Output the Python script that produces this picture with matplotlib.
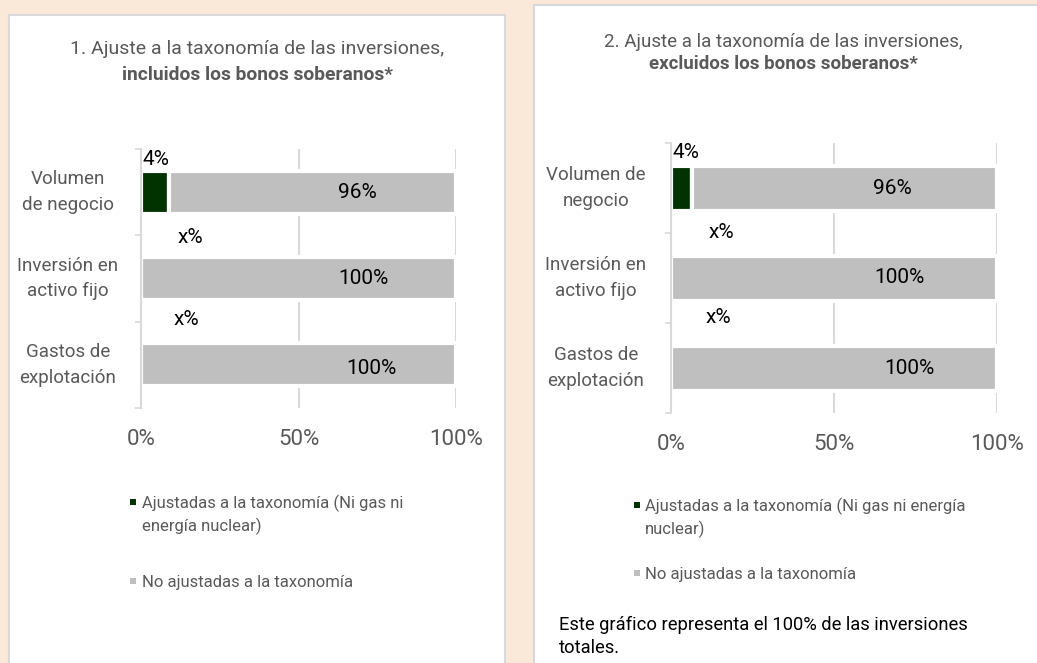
import matplotlib.pyplot as plt
from matplotlib.patches import Rectangle
from matplotlib.transforms import blended_transform_factory

W, H = 1037, 663

# ---- data ----
categories_left = ["Volumen\nde negocio", "Inversión en\nactivo fijo", "Gastos de\nexplotación"]
categories_right = ["Volumen de\nnegocio", "Inversión en\nactivo fijo", "Gastos de\nexplotación"]

# bar lengths as they are drawn in the picture (% of axis)
aligned_left = [8.9, 0, 0]
not_aligned_left = [91.1, 100, 100]
aligned_right = [6.4, 0, 0]
not_aligned_right = [93.6, 100, 100]

aligned_labels = ["4%", "x%", "x%"]
not_aligned_labels = ["96%", "100%", "100%"]

legend_left = ["Ajustadas a la taxonomía (Ni gas ni\nenergía nuclear)", "No ajustadas a la taxonomía"]
legend_right = ["Ajustadas a la taxonomía (Ni gas ni energía\nnuclear)", "No ajustadas a la taxonomía"]

note = "Este gráfico representa el 100% de las inversiones\ntotales."

GREEN = "#003300"
GREY = "#BFBFBF"
LINE = "#D9D9D9"
TXT = "#595959"
BG = "#FAE8D8"

plt.rcParams['font.family'] = ['Roboto', 'DejaVu Sans']

fig = plt.figure(figsize=(W / 100, H / 100), dpi=100)
fig.patch.set_facecolor(BG)


def fx(px):
    return px / W


def fy(py):
    return 1 - py / H


# white panels (behind the axes)
for x0, y0, x1, y1 in [(8.5, 15, 505, 680), (534, 5, 1060, 680)]:
    fig.patches.append(Rectangle((fx(x0), fy(y1)), fx(x1 - x0), (y1 - y0) / H,
                                 transform=fig.transFigure, facecolor='white',
                                 edgecolor=LINE, linewidth=1.5, zorder=-1))


def draw_panel(box, cats, cat_x, aligned, not_aligned, a_pos, n_pos):
    x0, top, x1, bottom = box
    ax = fig.add_axes([fx(x0), fy(bottom), fx(x1 - x0), (bottom - top) / H])
    ax.set_facecolor('none')
    rows = list(range(len(cats)))
    ax.barh(rows, aligned, height=0.5, color=GREEN, edgecolor='white', linewidth=3, zorder=3)
    ax.barh(rows, not_aligned, left=aligned, height=0.5, color=GREY,
            edgecolor='white', linewidth=3, zorder=3)
    ax.set_xlim(0, 100)
    ax.set_ylim(2.5, -0.5)
    for s in ['top', 'right', 'bottom']:
        ax.spines[s].set_visible(False)
    ax.spines['left'].set_color(LINE)
    ax.spines['left'].set_linewidth(1.5)
    ax.spines['left'].set_zorder(4)
    ax.set_xticks([0, 50, 100], ['0%', '50%', '100%'])
    ax.tick_params(axis='x', length=0, pad=15, labelsize=16, labelcolor=TXT)
    ax.set_yticks([-0.5, 0.5, 1.5, 2.5], ['', '', '', ''])
    ax.tick_params(axis='y', length=4.5, width=1.2, color=LINE)
    for gx in [50, 100]:
        ax.axvline(gx, color=LINE, linewidth=1.5, zorder=1)

    tr = blended_transform_factory(fig.transFigure, ax.transData)
    for r, c in zip(rows, cats):
        fig.text(fx(cat_x), r, c, transform=tr, ha='center', va='center',
                 multialignment='center', fontsize=13.5, color=TXT, linespacing=1.55)

    for (px, py), t in zip(a_pos, aligned_labels):
        ax.text(px, py, t, ha='center', va='center', fontsize=15, color='black', zorder=5)
    for (px, py), t in zip(n_pos, not_aligned_labels):
        ax.text(px, py, t, ha='center', va='center', fontsize=15, color='black', zorder=5)
    return ax


draw_panel((141, 149, 456, 408), categories_left, 68, aligned_left, not_aligned_left,
           [(4.6, -0.38), (15.6, 0.52), (14.3, 1.47)],
           [(68.6, 0.0), (70.5, 1.0), (73.3, 2.04)])
draw_panel((671, 143, 997, 413), categories_right, 596, aligned_right, not_aligned_right,
           [(4.6, -0.39), (15.6, 0.5), (14.4, 1.44)],
           [(67.8, 0.0), (70.2, 0.99), (73.0, 2.01)])

# titles
fig.text(fx(257), fy(49), "1. Ajuste a la taxonomía de las inversiones,", ha='center',
         va='center', fontsize=14, color=TXT)
fig.text(fx(257), fy(75), "incluidos los bonos soberanos*", ha='center',
         va='center', fontsize=13.9, color=TXT, fontweight='bold')
fig.text(fx(783), fy(42), "2. Ajuste a la taxonomía de las inversiones,", ha='center',
         va='center', fontsize=13.5, color=TXT)
fig.text(fx(783), fy(64), "excluidos los bonos soberanos*", ha='center',
         va='center', fontsize=13.5, color=TXT, fontweight='bold')


def write_lines(text, x, first_base, step, **kw):
    for i, line in enumerate(text.split("\n")):
        fig.text(fx(x), fy(first_base + i * step), line, ha='left', va='baseline', **kw)


# legends: small square marker on the first line of each entry
def draw_legend(labels, mark_x, text_x, baselines):
    for lab, col, base in zip(labels, [GREEN, GREY], baselines):
        fig.patches.append(Rectangle((fx(mark_x), fy(base - 3)), 6 / W, 6 / H,
                                     transform=fig.transFigure, facecolor=col,
                                     edgecolor='none', zorder=3))
        write_lines(lab, text_x, base, 23, fontsize=12, color=TXT)


draw_legend(legend_left, 130, 142, [508, 587])
draw_legend(legend_right, 634, 645, [511, 579])

write_lines(note, 559, 630, 23, fontsize=13.2, color='black')

fig.savefig("out.png", dpi=100, facecolor=BG)
